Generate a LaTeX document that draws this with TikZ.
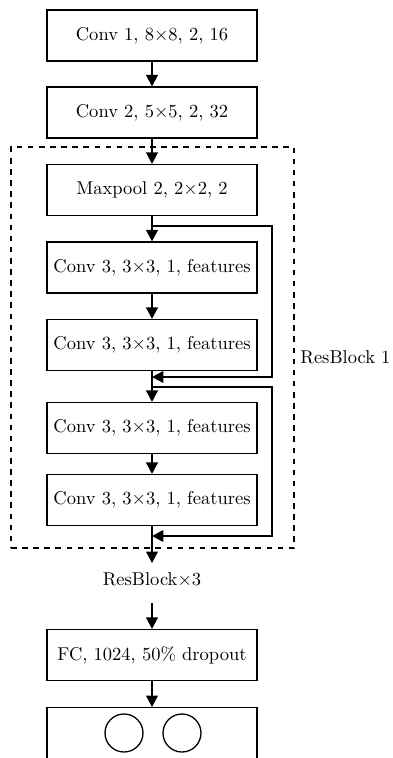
\documentclass[tikz,border=0pt]{standalone}
\usetikzlibrary{arrows.meta}
\begin{document}
\begin{tikzpicture}[x=0.54pt,y=-0.54pt,
  layer/.style={draw, line width=0.7pt, minimum width=113.4pt, minimum height=27.5pt, inner sep=0pt, anchor=center},
  arr/.style={line width=0.7pt, -{Triangle[length=6.2pt,width=6.4pt]}},
  plain/.style={line width=0.7pt},
  grp/.style={draw, dashed, line width=0.7pt, inner sep=0pt, minimum width=152.8pt, minimum height=216.5pt}]
\useasboundingbox (0,0) rectangle (393,758);
\clip (0,0) rectangle (393,758);
\node[layer] (c1) at (152,35.5) {Conv 1, 8$\times$8, 2, 16};
\node[layer] (c2) at (152,112.5) {Conv 2, 5$\times$5, 2, 32};
\node[grp] (rb) at (152.5,347.5) {};
\node[anchor=west, inner sep=0pt] (rbl) at (300,357) {ResBlock 1};
\node[layer] (mp) at (152,190) {Maxpool 2, 2$\times$2, 2};
\node[layer] (c3a) at (152,267.5) {Conv 3, 3$\times$3, 1, features};
\node[layer] (c3b) at (152,345) {Conv 3, 3$\times$3, 1, features};
\node[layer] (c3c) at (152,428) {Conv 3, 3$\times$3, 1, features};
\node[layer] (c3d) at (152,500) {Conv 3, 3$\times$3, 1, features};
\node (rbx) at (152,580) {ResBlock$\times$3};
\node[layer] (fc) at (152,655) {FC, 1024, 50\% dropout};
\node[layer, minimum height=50pt, anchor=north] (out) at (152,707) {};
\draw[plain] (124,733) circle[radius=19];
\draw[plain] (182,733) circle[radius=19];
% main flow
\draw[arr] (c1) -- (c2);
\draw[arr] (c2) -- (mp);
\draw[arr] (mp) -- (c3a);
\draw[arr] (c3a) -- (c3b);
\draw[arr] (c3b) -- (c3c);
\draw[arr] (c3c) -- (c3d);
\coordinate (t1) at (152,563);
\coordinate (t2) at (152,603);
\draw[arr] (c3d.south) -- (t1);
\draw[arr] (t2) -- (fc.north);
\draw[arr] (fc) -- (out);
% skip connections
\coordinate (s1) at (152,226);
\coordinate (s1r) at (272,226);
\coordinate (e1r) at (272,377);
\coordinate (e1) at (152,377);
\draw[arr] (s1) -- (s1r) -- (e1r) -- (e1);
\coordinate (s2) at (152,387);
\coordinate (s2r) at (272,387);
\coordinate (e2r) at (272,536);
\coordinate (e2) at (152,536);
\draw[arr] (s2) -- (s2r) -- (e2r) -- (e2);
\end{tikzpicture}
\end{document}
